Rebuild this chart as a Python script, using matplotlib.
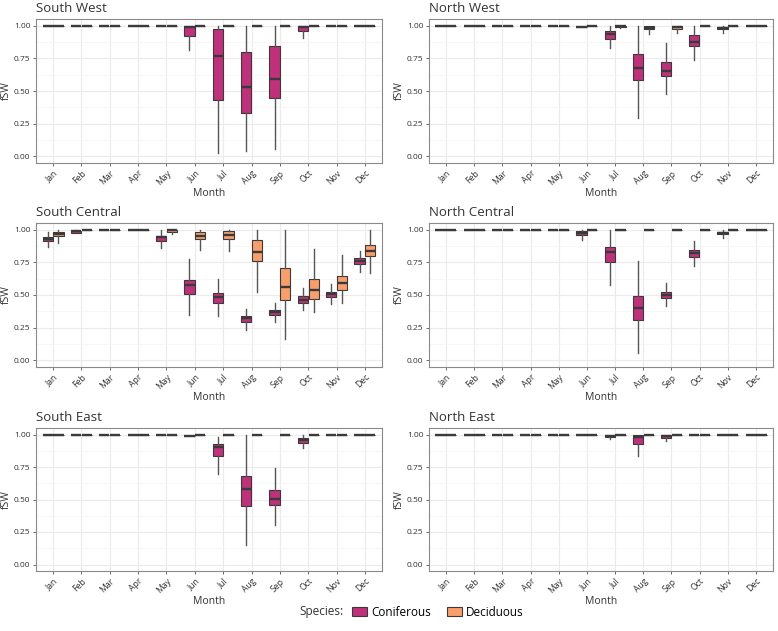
import matplotlib
matplotlib.use("Agg")
import matplotlib.pyplot as plt
from matplotlib.patches import Patch

plt.rcParams['font.family'] = ['Open Sans', 'DejaVu Sans']

months = ['Jan', 'Feb', 'Mar', 'Apr', 'May', 'Jun', 'Jul', 'Aug', 'Sep', 'Oct', 'Nov', 'Dec']
species = ['Coniferous', 'Deciduous']
colors = {'Coniferous': '#C1307A', 'Deciduous': '#FB9F6A'}

# box stats per month: (whisker low, q1, median, q3, whisker high)
ONE = (1.0, 1.0, 1.0, 1.0, 1.0)

sw_con = [ONE, ONE, ONE, ONE, ONE,
          (0.816, 0.923, 0.987, 0.995, 1.0),
          (0.023, 0.43, 0.77, 0.974, 1.0),
          (0.041, 0.332, 0.532, 0.80, 1.0),
          (0.059, 0.445, 0.59, 0.841, 1.0),
          (0.908, 0.957, 0.99, 0.995, 1.0),
          ONE, ONE]
sw_dec = [ONE] * 12

nw_con = [ONE, ONE, ONE, ONE, ONE,
          (0.99, 0.99, 0.99, 0.99, 0.99),
          (0.826, 0.90, 0.936, 0.956, 1.0),
          (0.297, 0.582, 0.677, 0.78, 1.0),
          (0.477, 0.618, 0.651, 0.72, 0.864),
          (0.738, 0.846, 0.877, 0.928, 1.0),
          (0.946, 0.97, 0.98, 0.99, 1.0),
          ONE]
nw_dec = [ONE, ONE, ONE, ONE, ONE, ONE,
          (0.985, 0.99, 0.995, 1.0, 1.0),
          (0.933, 0.972, 0.985, 0.997, 1.0),
          (0.946, 0.972, 0.987, 0.997, 1.0),
          ONE, ONE, ONE]

sc_con = [(0.864, 0.91, 0.928, 0.944, 0.985),
          (0.972, 0.977, 0.987, 0.992, 1.0),
          (0.995, 0.995, 0.995, 0.995, 0.995),
          (0.993, 0.993, 0.993, 0.993, 0.993),
          (0.856, 0.913, 0.941, 0.951, 1.0),
          (0.351, 0.51, 0.574, 0.615, 0.774),
          (0.338, 0.441, 0.485, 0.518, 0.626),
          (0.231, 0.29, 0.321, 0.338, 0.395),
          (0.29, 0.344, 0.372, 0.385, 0.436),
          (0.385, 0.44, 0.46, 0.49, 0.55),
          (0.433, 0.485, 0.51, 0.526, 0.582),
          (0.679, 0.736, 0.762, 0.779, 0.836)]
sc_dec = [(0.895, 0.949, 0.969, 0.982, 1.0),
          (0.998, 0.998, 0.998, 0.998, 0.998),
          (0.998, 0.998, 0.998, 0.998, 0.998),
          ONE,
          (0.967, 0.985, 0.995, 1.0, 1.0),
          (0.846, 0.926, 0.951, 0.982, 1.0),
          (0.836, 0.926, 0.959, 0.987, 1.0),
          (0.526, 0.756, 0.831, 0.918, 1.0),
          (0.167, 0.462, 0.559, 0.703, 1.0),
          (0.372, 0.472, 0.536, 0.626, 0.851),
          (0.436, 0.538, 0.59, 0.646, 0.803),
          (0.667, 0.795, 0.836, 0.885, 1.0)]

nc_con = [ONE, ONE, ONE, ONE, ONE,
          (0.92, 0.959, 0.974, 0.99, 1.0),
          (0.579, 0.754, 0.828, 0.869, 1.0),
          (0.054, 0.31, 0.40, 0.495, 0.759),
          (0.413, 0.477, 0.503, 0.523, 0.592),
          (0.721, 0.79, 0.821, 0.844, 0.913),
          (0.938, 0.964, 0.974, 0.985, 0.995),
          ONE]
nc_dec = [ONE] * 12

se_con = [ONE, ONE, ONE, ONE, ONE,
          (0.99, 0.99, 0.99, 0.99, 0.99),
          (0.698, 0.834, 0.903, 0.928, 0.98),
          (0.148, 0.45, 0.583, 0.683, 1.0),
          (0.302, 0.46, 0.506, 0.575, 0.742),
          (0.895, 0.936, 0.96, 0.972, 1.0),
          ONE, ONE]
se_dec = [ONE] * 12

ne_con = [ONE, ONE, ONE, ONE, ONE, ONE,
          (0.964, 0.98, 0.99, 0.997, 1.0),
          (0.834, 0.928, 0.98, 0.997, 1.0),
          (0.949, 0.974, 0.992, 0.997, 1.0),
          ONE, ONE, ONE]
ne_dec = [ONE] * 12

panels = [('South West', sw_con, sw_dec), ('North West', nw_con, nw_dec),
          ('South Central', sc_con, sc_dec), ('North Central', nc_con, nc_dec),
          ('South East', se_con, se_dec), ('North East', ne_con, ne_dec)]

W, H = 778, 631
fig = plt.figure(figsize=(W / 100, H / 100), dpi=100)

col_x = [(36, 382), (429, 773)]
row_y = [(19, 163), (223, 367), (428, 571)]
txt = '#333333'
edge = '#3a3a3a'

for k, (name, con, dec) in enumerate(panels):
    r, c = divmod(k, 2)
    x0, x1 = col_x[c]
    y0, y1 = row_y[r]
    ax = fig.add_axes([x0 / W, 1 - y1 / H, (x1 - x0) / W, (y1 - y0) / H])
    ax.set_axisbelow(True)
    for sp_name, data, off in [('Coniferous', con, -0.19), ('Deciduous', dec, 0.19)]:
        stats = [dict(whislo=s[0], q1=s[1], med=s[2], q3=s[3], whishi=s[4], fliers=[])
                 for s in data]
        pos = [i + 1 + off for i in range(12)]
        ax.bxp(stats, positions=pos, widths=0.36, patch_artist=True, showcaps=False,
               boxprops=dict(facecolor=colors[sp_name], edgecolor=edge, linewidth=0.8),
               whiskerprops=dict(color='#555555', linewidth=1.0),
               medianprops=dict(color=edge, linewidth=1.7),
               manage_ticks=False)
    ax.set_xlim(0.4, 12.6)
    ax.set_ylim(-0.05, 1.05)
    ax.set_xticks(range(1, 13))
    ax.set_xticklabels(months, rotation=45, ha='right', rotation_mode='anchor',
                       fontsize=6.2, color=txt)
    ax.set_yticks([0, 0.25, 0.5, 0.75, 1.0])
    ax.set_yticklabels(['0.00', '0.25', '0.50', '0.75', '1.00'], fontsize=6, color=txt)
    ax.set_yticks([0.125, 0.375, 0.625, 0.875], minor=True)
    ax.grid(True, which='major', color='#ebebeb', linewidth=0.8)
    ax.grid(True, which='minor', axis='y', color='#f4f4f4', linewidth=0.5)
    ax.tick_params(axis='both', which='major', length=2.5, width=0.6, color='#555555', pad=1.5)
    ax.tick_params(axis='both', which='minor', length=0)
    for sp in ax.spines.values():
        sp.set_color('#8a8a8a')
        sp.set_linewidth(0.8)
    ax.set_xlabel('Month', fontsize=7.5, color=txt, labelpad=1)
    ax.set_ylabel('fSW', fontsize=7.5, color=txt, labelpad=1.5)
    ax.set_title(name, fontsize=9.5, color=txt, loc='left', pad=5)

fig.text(343 / W, 1 - 612 / H, 'Species:', ha='right', va='center', fontsize=8.5, color=txt)
handles = [Patch(facecolor=colors[s], edgecolor=edge, linewidth=0.8, label=s) for s in species]
fig.legend(handles=handles, loc='center left', bbox_to_anchor=(346 / W, 1 - 612 / H),
           ncol=2, frameon=False, fontsize=8.5, handlelength=1.3, handleheight=0.8,
           handletextpad=0.3, columnspacing=1.4, borderpad=0)

fig.savefig('out.png', dpi=100)
